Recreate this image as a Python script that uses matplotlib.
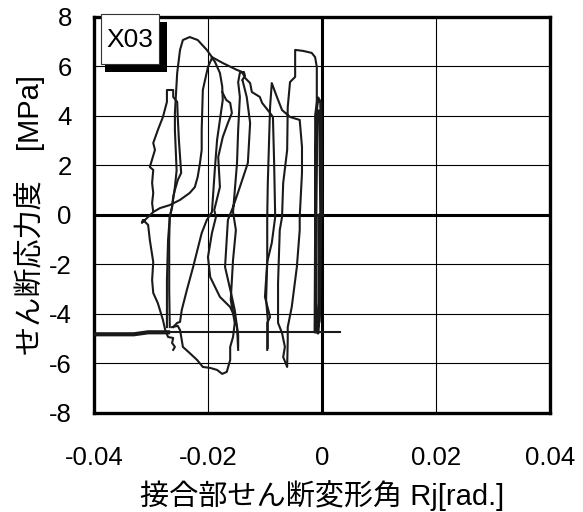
import numpy as np
import matplotlib.pyplot as plt
from matplotlib.patches import Rectangle

plt.rcParams['font.family'] = ['Liberation Sans', 'Noto Sans CJK JP', 'DejaVu Sans']
plt.rcParams['axes.unicode_minus'] = False

# hysteresis strokes: Rj [rad] and shear stress [MPa]
near0_x = [0, -0.0002, -0.0007, -0.0011, -0.0011, -0.0007, -0.0004, -0.0002, -0.0004,
           -0.0009, -0.0011, -0.0012, -0.0009, -0.0005, -0.0005, 0]
near0_y = [0, 4.53, 4.73, 4.04, -4.65, -4.77, -3.43, 0, 4.16, 4.24, 0, -4.73, -4.65,
           -4.3, 0, 0]

right_x = [-0.0009, -0.0009, -0.0012, -0.0018, -0.0033, -0.0047, -0.0047, -0.0056, -0.0060,
           -0.0061, -0.0068, -0.0070, -0.0074, -0.0077, -0.0077, -0.0070, -0.0065, -0.0068,
           -0.0061, -0.0060, -0.0060, -0.0053, -0.0044, -0.0039, -0.0039, -0.0035, -0.0035,
           -0.0039, -0.0056, -0.0070, -0.0079, -0.0088, -0.0091, -0.0095, -0.0096, -0.0096,
           -0.0100, -0.0091, -0.0096, -0.0096]
right_y = [4.24, 5.98, 6.38, 6.55, 6.63, 6.67, 5.58, 5.37, 4.36,
           2.63, 1.29, -0.08, -0.61, -2.75, -4.36, -4.77, -5.33, -5.74,
           -6.14, -5.05, -4.53, -3.72, -2.10, -0.61, -0.08, 1.70, 2.75,
           3.84, 3.96, 4.24, 4.77, 5.33, 4.36, 1.29, -0.08, -1.90,
           -3.31, -4.12, -4.36, -5.45]

ridge_x = [-0.0193, -0.0174, -0.0149, -0.0140, -0.0135, -0.0126, -0.0123, -0.0109, -0.0105,
           -0.0091, -0.0086, -0.0084, -0.0082, -0.0088, -0.0096, -0.0098, -0.0095, -0.0095]
ridge_y = [6.38, 6.14, 5.86, 5.78, 5.54, 5.33, 4.97, 4.77, 4.53,
           4.12, 3.96, 2.22, -0.08, -1.13, -1.90, -3.43, -4.24, -5.37]

loopA_x = [-0.0261, -0.0258, -0.0263, -0.0261, -0.0270, -0.0275, -0.0279, -0.0288, -0.0296,
           -0.0298, -0.0296, -0.0302, -0.0305, -0.0314, -0.0316, -0.0305, -0.0296, -0.0298,
           -0.0296, -0.0298, -0.0296, -0.0302, -0.0293, -0.0296, -0.0288, -0.0279, -0.0272,
           -0.0272, -0.0261, -0.0261, -0.0254, -0.0253, -0.0251, -0.0247, -0.0253, -0.0258,
           -0.0261, -0.0263, -0.0267, -0.0268, -0.0268, -0.0267]
loopA_y = [-5.45, -5.33, -5.17, -4.97, -4.93, -4.65, -4.24, -3.56, -3.15,
           -2.63, -1.90, -1.01, -0.40, -0.20, -0.32, -0.08, 0.12, 0.48,
           0.89, 1.29, 1.82, 1.94, 2.63, 2.91, 3.43, 3.96, 4.57,
           5.05, 5.05, 4.77, 4.57, 3.96, 3.03, 1.70, 1.41, 1.01,
           0.73, 0.32, -0.08, -1.01, -3.03, -4.53]

rise_x = [-0.0296, -0.0284, -0.0267, -0.0249, -0.0232, -0.0223, -0.0218, -0.0214, -0.0211,
          -0.0211, -0.0209, -0.0200, -0.0193]
rise_y = [0.12, 0.28, 0.40, 0.61, 0.89, 1.13, 1.54, 2.10, 2.63,
          3.43, 5.05, 5.98, 6.34]

bigB_x = [-0.0272, -0.0272, -0.0270, -0.0267, -0.0263, -0.0258, -0.0255, -0.0258, -0.0258,
          -0.0254, -0.0249, -0.0244, -0.0232, -0.0218, -0.0202, -0.0193]
bigB_y = [-4.53, -2.63, -1.01, -0.08, 0.32, 1.13, 1.80, 3.43, 4.12,
          5.74, 6.67, 7.07, 7.19, 7.07, 6.67, 6.38]

load_x = [-0.0261, -0.0254, -0.0249, -0.0246, -0.0237, -0.0226, -0.0211, -0.0202, -0.0193,
          -0.0188, -0.0184, -0.0179, -0.0174, -0.0175, -0.0179, -0.0188, -0.0193]
load_y = [-4.53, -4.36, -4.32, -3.84, -3.03, -2.10, -0.73, -0.20, 0.12,
          1.82, 3.03, 3.84, 4.65, 5.20, 5.74, 6.20, 6.34]

down_x = [-0.0175, -0.0168, -0.0161, -0.0158, -0.0165, -0.0174, -0.0182, -0.0179, -0.0189,
          -0.0186, -0.0193, -0.0200, -0.0196, -0.0179, -0.0161, -0.0153, -0.0149, -0.0147]
down_y = [4.97, 4.65, 4.53, 4.12, 3.72, 3.15, 2.34, 1.13, 0.20,
          -0.08, -0.73, -1.70, -2.51, -3.31, -3.72, -4.12, -4.53, -5.45]

bottom_x = [-0.0263, -0.0253, -0.0249, -0.0246, -0.0244, -0.0232, -0.0219, -0.0209, -0.0196,
            -0.0184, -0.0175, -0.0167, -0.0161, -0.0161, -0.0156, -0.0153, -0.0160, -0.0156,
            -0.0151, -0.0156, -0.0149, -0.0147, -0.0144, -0.0147, -0.0144, -0.0137, -0.0135,
            -0.0140, -0.0139, -0.0132, -0.0126, -0.0130, -0.0144, -0.0156, -0.0165, -0.0170,
            -0.0158, -0.0153, -0.0149, -0.0147, -0.0147]
bottom_y = [-4.53, -4.48, -4.65, -5.05, -5.33, -5.58, -5.86, -6.14, -6.18,
            -6.26, -6.42, -6.34, -5.86, -5.33, -4.93, -4.36, -3.43, -1.82,
            -0.61, 0.12, 2.10, 3.43, 4.77, 5.37, 5.74, 5.78, 5.62,
            5.45, 5.41, 4.77, 3.72, 2.10, 1.13, 0.32, -0.20, -2.10,
            -3.31, -3.84, -4.53, -4.85, -5.30]

tail_thick_x = [-0.0400, -0.0330, -0.0305, -0.0270]
tail_thick_y = [-4.82, -4.82, -4.74, -4.74]
tail_thin_x = [-0.0270, 0.0032]
tail_thin_y = [-4.74, -4.74]

xticks = [-0.04, -0.02, 0, 0.02, 0.04]
xtick_labels = ['-0.04', '-0.02', '0', '0.02', '0.04']
yticks = [-8, -6, -4, -2, 0, 2, 4, 6, 8]

fig = plt.figure(figsize=(5.83, 5.12), dpi=100)
ax = fig.add_axes([0.1612, 0.1934, 0.782, 0.7734])

col = '#1a1a1a'
strokes = [(near0_x, near0_y, 2.2), (right_x, right_y, 1.5), (ridge_x, ridge_y, 1.5),
           (loopA_x, loopA_y, 1.5), (rise_x, rise_y, 1.5), (bigB_x, bigB_y, 1.5),
           (load_x, load_y, 1.5), (down_x, down_y, 1.5), (bottom_x, bottom_y, 1.5),
           (tail_thick_x, tail_thick_y, 3.0), (tail_thin_x, tail_thin_y, 1.5)]
for sx, sy, lw in strokes:
    ax.plot(sx, sy, color=col, lw=lw, zorder=3)

ax.axhline(0, color='black', lw=2.2, zorder=2)
ax.axvline(0, color='black', lw=2.2, zorder=2)

ax.set_xlim(-0.04, 0.04)
ax.set_ylim(-8, 8)
ax.set_xticks(xticks)
ax.set_xticklabels(xtick_labels)
ax.set_yticks(yticks)
ax.grid(True, color='black', lw=0.8)
ax.tick_params(length=0, labelsize=18.5)
ax.tick_params(axis='x', pad=24)
ax.tick_params(axis='y', pad=16)
for s in ax.spines.values():
    s.set_linewidth(2.4)

ax.set_xlabel('接合部せん断変形角 Rj[rad.]', fontsize=21, labelpad=7)
ax.set_ylabel('せん断応力度　[MPa]', fontsize=21, labelpad=3)

# label box with drop shadow
fig.add_artist(Rectangle((0.180, 0.8594), 0.1064, 0.0976, transform=fig.transFigure,
                         facecolor='black', edgecolor='none', zorder=5))
fig.add_artist(Rectangle((0.1732, 0.875), 0.0995, 0.0977, transform=fig.transFigure,
                         facecolor='white', edgecolor='#333333', lw=0.8, zorder=6))
fig.text(0.223, 0.921, 'X03', fontsize=19, ha='center', va='center', zorder=7)

fig.savefig('out.png', dpi=100)
